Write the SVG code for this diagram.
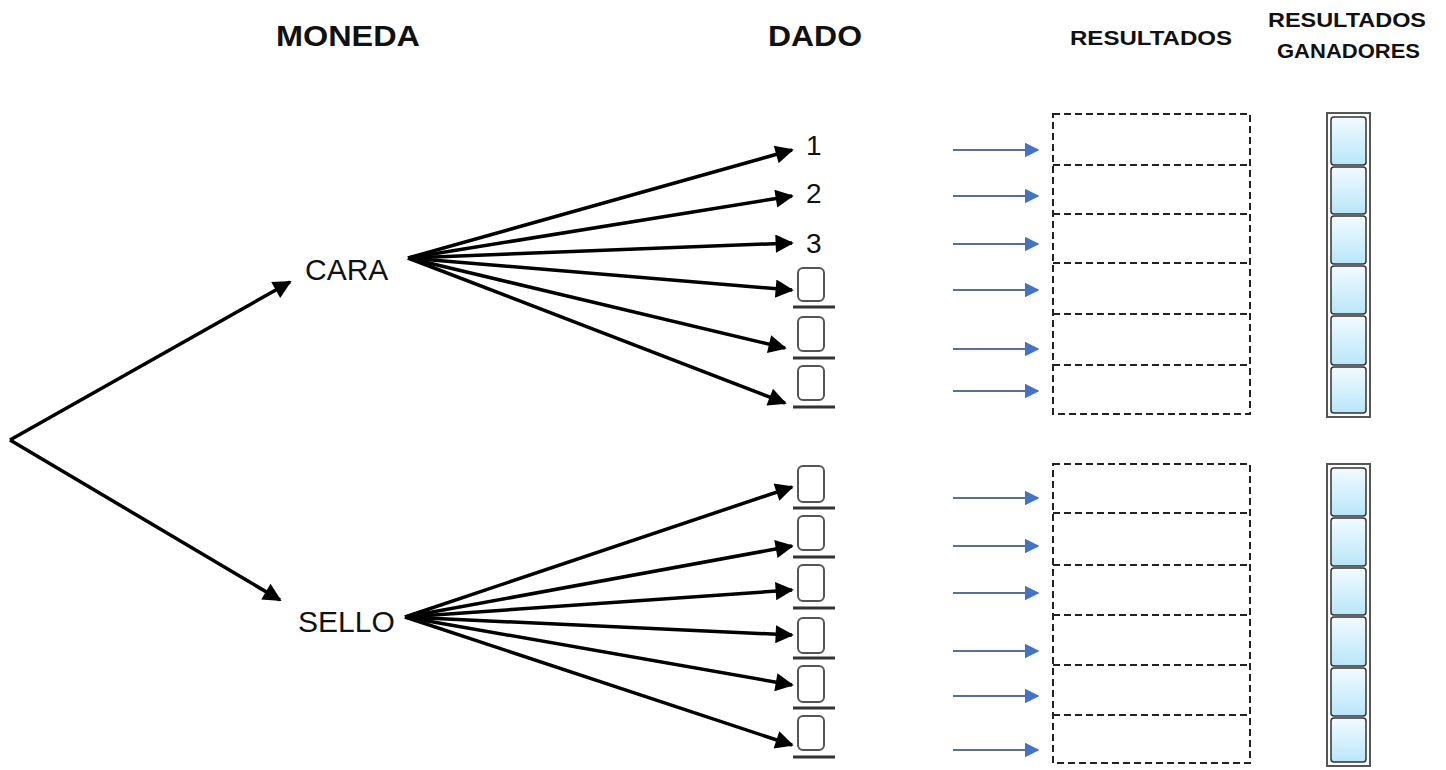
<svg xmlns="http://www.w3.org/2000/svg" width="1446" height="770" viewBox="0 0 1446 770">
<defs>
<marker id="ah" viewBox="0 0 10 10" refX="9" refY="5" markerWidth="6" markerHeight="5.2" markerUnits="strokeWidth" orient="auto">
<path d="M0,0 L10,5 L0,10 z" fill="#000"/>
</marker>
<marker id="bh" viewBox="0 0 10 10" refX="9" refY="5" markerWidth="7.5" markerHeight="7.5" markerUnits="strokeWidth" orient="auto">
<path d="M0,0 L10,5 L0,10 z" fill="#4472c4"/>
</marker>
<linearGradient id="cellg" x1="0" y1="0" x2="0" y2="1">
<stop offset="0" stop-color="#f2fbff"/>
<stop offset="1" stop-color="#b8e6fa"/>
</linearGradient>
</defs>
<style>
.hdr{font-family:"Liberation Sans",Arial,sans-serif;font-weight:bold;fill:#111}
.lbl{font-family:"Liberation Sans",Arial,sans-serif;fill:#111}
.ar{stroke:#000;stroke-width:3.5;fill:none;marker-end:url(#ah)}
.ba{stroke:#5a6f96;stroke-width:2;fill:none;marker-end:url(#bh)}
.box{fill:#fff;stroke:#555;stroke-width:2}
.ul{stroke:#333;stroke-width:3}
.dash{fill:none;stroke:#222;stroke-width:2;stroke-dasharray:7,4}
.outer{fill:#fff;stroke:#555;stroke-width:2}
.cell{fill:url(#cellg);stroke:#333;stroke-width:1.5}
</style>
<rect width="1446" height="770" fill="#fff"/>

<g id="headers">
<text class="hdr" x="276" y="46" font-size="29" textLength="144" lengthAdjust="spacingAndGlyphs">MONEDA</text>
<text class="hdr" x="768" y="46" font-size="29" textLength="94" lengthAdjust="spacingAndGlyphs">DADO</text>
<text class="hdr" x="1070" y="45" font-size="21" textLength="162" lengthAdjust="spacingAndGlyphs">RESULTADOS</text>
<text class="hdr" x="1268" y="27" font-size="21" textLength="158" lengthAdjust="spacingAndGlyphs">RESULTADOS</text>
<text class="hdr" x="1277" y="58" font-size="21" textLength="143" lengthAdjust="spacingAndGlyphs">GANADORES</text>
</g>

<g id="connectors">
<line class="ar" x1="10" y1="440" x2="290" y2="282"/>
<line class="ar" x1="10" y1="440" x2="280" y2="600"/>
<line class="ar" x1="408" y1="258" x2="792" y2="150"/>
<line class="ar" x1="408" y1="258" x2="792" y2="196"/>
<line class="ar" x1="408" y1="258" x2="792" y2="243"/>
<line class="ar" x1="408" y1="258" x2="792" y2="290"/>
<line class="ar" x1="408" y1="258" x2="785" y2="348"/>
<line class="ar" x1="408" y1="258" x2="785" y2="403"/>
<line class="ar" x1="405" y1="617" x2="792" y2="487"/>
<line class="ar" x1="405" y1="617" x2="792" y2="546"/>
<line class="ar" x1="405" y1="617" x2="792" y2="590"/>
<line class="ar" x1="405" y1="617" x2="792" y2="635"/>
<line class="ar" x1="405" y1="617" x2="792" y2="685"/>
<line class="ar" x1="405" y1="617" x2="792" y2="745"/>
<line class="ba" x1="953" y1="150" x2="1038" y2="150"/>
<line class="ba" x1="953" y1="196" x2="1038" y2="196"/>
<line class="ba" x1="953" y1="244" x2="1038" y2="244"/>
<line class="ba" x1="953" y1="290" x2="1038" y2="290"/>
<line class="ba" x1="953" y1="349" x2="1038" y2="349"/>
<line class="ba" x1="953" y1="391" x2="1038" y2="391"/>
<line class="ba" x1="953" y1="498" x2="1038" y2="498"/>
<line class="ba" x1="953" y1="546" x2="1038" y2="546"/>
<line class="ba" x1="953" y1="593" x2="1038" y2="593"/>
<line class="ba" x1="953" y1="651" x2="1038" y2="651"/>
<line class="ba" x1="953" y1="696" x2="1038" y2="696"/>
<line class="ba" x1="953" y1="750" x2="1038" y2="750"/>
</g>

<g id="coin">
<text class="lbl" x="305" y="280" font-size="30">CARA</text>
<text class="lbl" x="298" y="632" font-size="30">SELLO</text>
</g>

<g id="dice-upper">
<text class="lbl" x="806" y="155" font-size="28">1</text>
<text class="lbl" x="806" y="203" font-size="28">2</text>
<text class="lbl" x="806" y="253" font-size="28">3</text>
<rect class="box" x="798" y="268" width="26" height="33" rx="5"/>
<line class="ul" x1="793" y1="307" x2="835" y2="307"/>
<rect class="box" x="798" y="317" width="26" height="34" rx="5"/>
<line class="ul" x1="793" y1="358" x2="835" y2="358"/>
<rect class="box" x="798" y="366" width="26" height="34" rx="5"/>
<line class="ul" x1="793" y1="407" x2="835" y2="407"/>
</g>

<g id="dice-lower">
<rect class="box" x="798" y="466" width="26" height="36" rx="5"/>
<line class="ul" x1="793" y1="508" x2="835" y2="508"/>
<rect class="box" x="798" y="516" width="26" height="34" rx="5"/>
<line class="ul" x1="793" y1="557" x2="835" y2="557"/>
<rect class="box" x="798" y="565" width="26" height="36" rx="5"/>
<line class="ul" x1="793" y1="608" x2="835" y2="608"/>
<rect class="box" x="798" y="618" width="26" height="35" rx="5"/>
<line class="ul" x1="793" y1="658" x2="835" y2="658"/>
<rect class="box" x="798" y="666" width="26" height="36" rx="5"/>
<line class="ul" x1="793" y1="708" x2="835" y2="708"/>
<rect class="box" x="798" y="716" width="26" height="34" rx="5"/>
<line class="ul" x1="793" y1="757" x2="835" y2="757"/>
</g>

<g id="results-upper">
<rect class="dash" x="1053" y="114" width="197" height="300"/>
<line class="dash" x1="1053" y1="165" x2="1250" y2="165"/>
<line class="dash" x1="1053" y1="214" x2="1250" y2="214"/>
<line class="dash" x1="1053" y1="263" x2="1250" y2="263"/>
<line class="dash" x1="1053" y1="314" x2="1250" y2="314"/>
<line class="dash" x1="1053" y1="365" x2="1250" y2="365"/>
</g>

<g id="results-lower">
<rect class="dash" x="1053" y="464" width="197" height="299"/>
<line class="dash" x1="1053" y1="513" x2="1250" y2="513"/>
<line class="dash" x1="1053" y1="565" x2="1250" y2="565"/>
<line class="dash" x1="1053" y1="615" x2="1250" y2="615"/>
<line class="dash" x1="1053" y1="665" x2="1250" y2="665"/>
<line class="dash" x1="1053" y1="715" x2="1250" y2="715"/>
</g>

<g id="winners-upper">
<rect class="outer" x="1327" y="113" width="43" height="304"/>
<rect class="cell" x="1331" y="117" width="35" height="48" rx="3"/>
<rect class="cell" x="1331" y="167" width="35" height="47" rx="3"/>
<rect class="cell" x="1331" y="216" width="35" height="48" rx="3"/>
<rect class="cell" x="1331" y="266" width="35" height="48" rx="3"/>
<rect class="cell" x="1331" y="316" width="35" height="49" rx="3"/>
<rect class="cell" x="1331" y="367" width="35" height="46" rx="3"/>
</g>

<g id="winners-lower">
<rect class="outer" x="1327" y="464" width="43" height="302"/>
<rect class="cell" x="1331" y="468" width="35" height="48" rx="3"/>
<rect class="cell" x="1331" y="518" width="35" height="48" rx="3"/>
<rect class="cell" x="1331" y="568" width="35" height="47" rx="3"/>
<rect class="cell" x="1331" y="617" width="35" height="49" rx="3"/>
<rect class="cell" x="1331" y="668" width="35" height="48" rx="3"/>
<rect class="cell" x="1331" y="718" width="35" height="44" rx="3"/>
</g>
</svg>
